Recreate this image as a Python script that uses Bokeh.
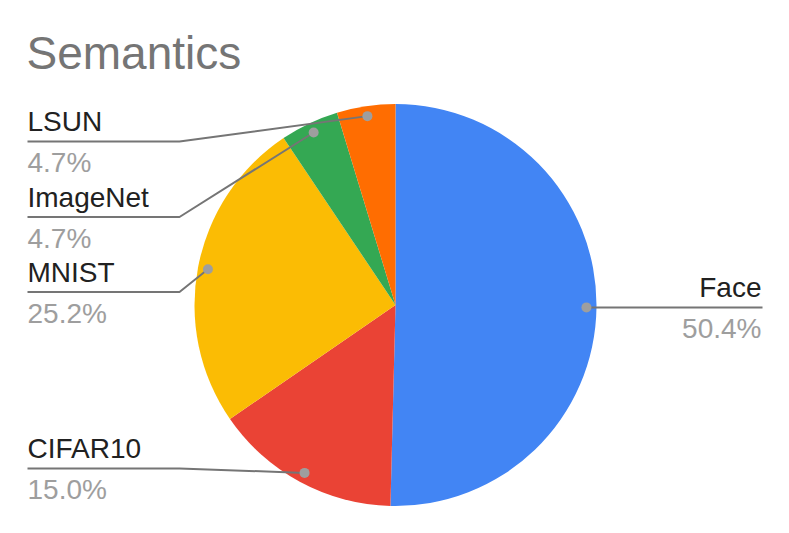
import numpy as np
from bokeh.plotting import figure
from bokeh.models import Range1d, ColumnDataSource, Label
from bokeh.embed import file_html
from bokeh.resources import INLINE
from bokeh.core.properties import value

# ---- data ----
categories = ["Face", "CIFAR10", "MNIST", "ImageNet", "LSUN"]
shares = [50.4, 15.0, 25.2, 4.7, 4.7]
colors = ["#4285F4", "#EA4335", "#FBBC04", "#34A853", "#FF6D01"]
title_text = "Semantics"

# ---- layout (screen pixel coords of the page) ----
PAGE_H = 533
CX, CY, R = 395.0, 304.5, 201.0          # pie centre / radius (screen)
DOT_R = 0.95 * R
label_side = {"Face": "right", "CIFAR10": "left", "MNIST": "left",
              "ImageNet": "left", "LSUN": "left"}
label_line_y = {"CIFAR10": 468.0, "MNIST": 291.5, "ImageNet": 216.5, "LSUN": 141.0}
LEFT_X, ELBOW_X, RIGHT_X = 27.0, 179.0, 762.0
FONT = "Liberation Sans"
FS = "28px"


def Y(sy):
    return PAGE_H - sy


p = figure(width=773, height=517, x_range=Range1d(0, 773), y_range=Range1d(16, 533),
           output_backend="svg", toolbar_location=None, min_border=0)
p.axis.visible = False
p.grid.visible = False
p.outline_line_color = None
p.background_fill_color = "white"

vals = np.array(shares, dtype=float)
frac = vals / vals.sum()
cum_end = np.cumsum(frac)
cum_start = cum_end - frac
theta0 = 2 * np.pi * cum_start   # clockwise from top
theta1 = 2 * np.pi * cum_end

src = ColumnDataSource(dict(
    x=[CX] * len(categories), y=[Y(CY)] * len(categories),
    start=list(np.pi / 2 - theta1), end=list(np.pi / 2 - theta0),
    color=colors, name=categories))
p.wedge(x="x", y="y", radius=R, start_angle="start", end_angle="end",
        direction="anticlock", fill_color="color", line_color=None, source=src)

# leader lines, dots, labels
xs, ys = [], []
dx, dy = [], []
ltx, lty, ltxt, lal = [], [], [], []
ptx, pty, ptxt = [], [], []
for i, cat in enumerate(categories):
    mid = (theta0[i] + theta1[i]) / 2
    px = CX + DOT_R * np.sin(mid)
    py = CY - DOT_R * np.cos(mid)
    dx.append(px)
    dy.append(Y(py))
    pct = f"{shares[i]:.1f}%"
    if label_side[cat] == "right":
        ly = py
        xs.append([px, RIGHT_X])
        ys.append([Y(ly), Y(ly)])
        tx, align = RIGHT_X - 1, "right"
    else:
        ly = label_line_y[cat]
        xs.append([LEFT_X, ELBOW_X, px])
        ys.append([Y(ly), Y(ly), Y(py)])
        tx, align = LEFT_X, "left"
    ltx.append(tx); lty.append(Y(ly - 20)); ltxt.append(cat); lal.append(align)
    ptx.append(tx); pty.append(Y(ly + 21)); ptxt.append(pct)

p.multi_line(xs=xs, ys=ys, line_color="#757575", line_width=2)
p.scatter(x=dx, y=dy, size=10, fill_color="#9E9E9E", line_color=None)

lsrc = ColumnDataSource(dict(x=ltx, y=lty, t=ltxt, a=lal))
p.text(x="x", y="y", text="t", text_align="a", text_baseline="alphabetic",
       text_font=value(FONT), text_font_size=FS, text_color="#212121", source=lsrc)
psrc = ColumnDataSource(dict(x=ptx, y=pty, t=ptxt, a=lal))
p.text(x="x", y="y", text="t", text_align="a", text_baseline="alphabetic",
       text_font=value(FONT), text_font_size=FS, text_color="#9E9E9E", source=psrc)

p.add_layout(Label(x=26, y=Y(52), text=title_text, text_font=FONT,
                   text_font_size="46px", text_color="#757575",
                   text_baseline="alphabetic", text_align="left"))

open("out.html", "w").write(file_html(p, INLINE))
